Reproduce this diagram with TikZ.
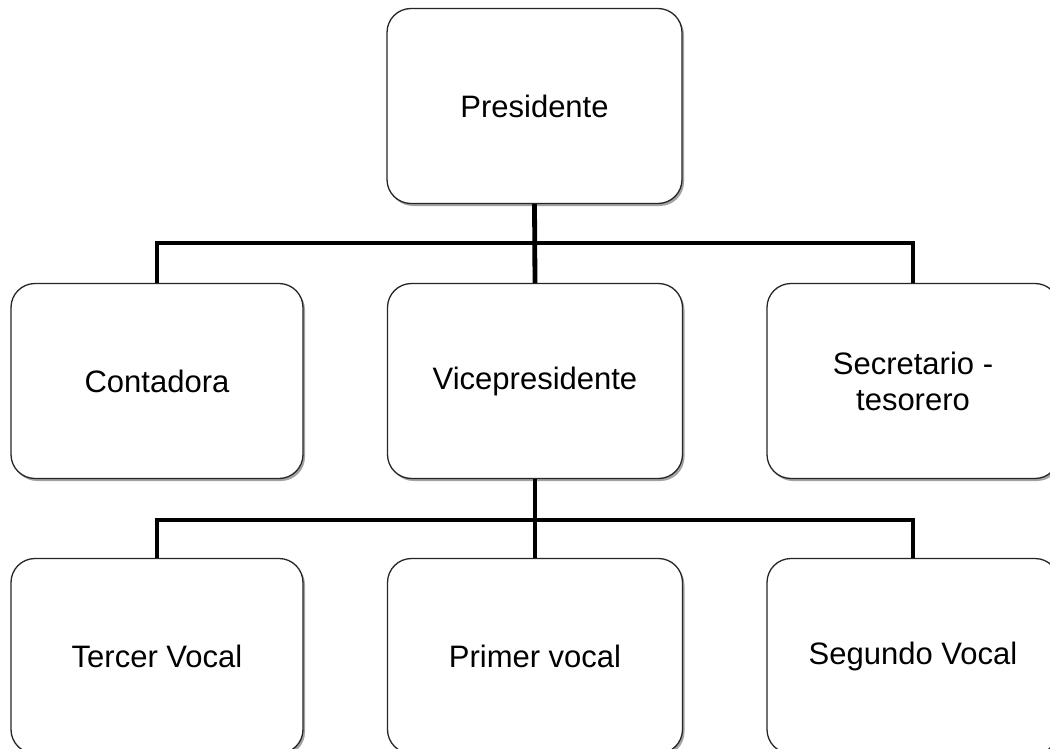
\documentclass[tikz,border=0pt]{standalone}
\usepackage{fontspec}
\setmainfont{Liberation Sans}
\usetikzlibrary{shadows}
\begin{document}
\begin{tikzpicture}[x=1pt,y=-1pt,
  box/.style={draw=black!85, line width=1.3pt, fill=white, rounded corners=24pt,
    minimum width=292pt, minimum height=195pt, inner sep=0pt, align=center,
    font=\fontsize{31}{36}\selectfont,
    drop shadow={shadow xshift=2pt, shadow yshift=-2.5pt, fill=black!45, opacity=0.8}},
  conn/.style={draw=black, line width=4.8pt}]
\clip (0,0) rectangle (1050,749);
\fill[white] (0,0) rectangle (1050,749);
\node[box, minimum width=295pt] (pres) at (534.5,106) {Presidente};
\node[box] (cont) at (157,381) {Contadora};
\node[box, minimum width=295pt] (vice) at (535,381) {Vicepresidente};
\node[box] (sec) at (913,381) {Secretario -\\tesorero};
\node[box] (ter) at (157,656) {Tercer Vocal};
\node[box, minimum width=295pt] (prim) at (535,656) {Primer vocal};
\node[box] (seg) at (913,656) {Segundo Vocal};
\coordinate (b1) at (535,243);
\coordinate (b2) at (535,520);
\draw[conn] (pres.south) -- (vice.north);
\draw[conn] (cont.north) |- (b1) -| (sec.north);
\draw[conn] (vice.south) -- (prim.north);
\draw[conn] (ter.north) |- (b2) -| (seg.north);
\end{tikzpicture}
\end{document}
